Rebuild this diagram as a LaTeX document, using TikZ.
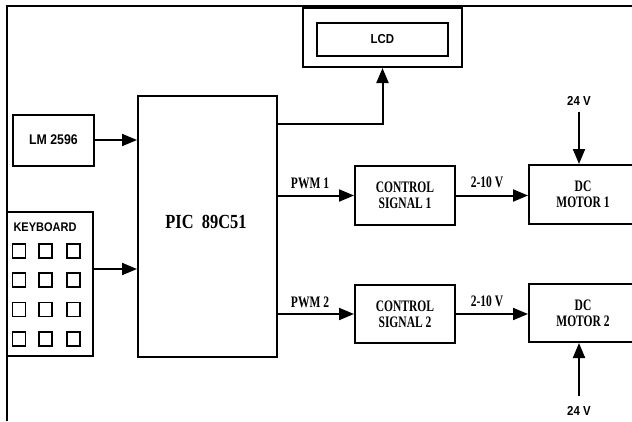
\documentclass[tikz,border=0pt]{standalone}
\usepackage{fontspec}
\usetikzlibrary{arrows.meta}
\setmainfont{Liberation Serif}
\newfontfamily\sansb[FakeStretch=0.88]{Liberation Sans}
\newfontfamily\serb[FakeStretch=0.72]{Liberation Serif}
\newfontfamily\serc[FakeStretch=0.82]{Liberation Serif}
\begin{document}
\begin{tikzpicture}[x=1pt,y=-1pt,
  box/.style={draw, line width=2pt, inner sep=0pt, align=center},
  key/.style={draw, line width=1.8pt, minimum width=13pt, minimum height=14pt, inner sep=0pt},
  arr/.style={line width=2pt, -{Triangle[length=15pt,width=12pt]}},
  sanslab/.style={font=\sansb\bfseries\fontsize{13}{14}\selectfont},
  serlab/.style={font=\serb\bfseries\fontsize{16}{16}\selectfont, align=center}
]
\clip (0,0) rectangle (632,421);
\fill[white] (0,0) rectangle (632,421);
% frame
\draw[line width=1.6pt] (7,421) -- (7,6) -- (640,6);
% LCD
\node[box, minimum width=159pt, minimum height=59pt] (lcdo) at (382.5,37.5) {};
\node[box, minimum width=131pt, minimum height=33pt, sanslab] (lcdi) at (382.5,39.5) {LCD};
% PIC
\node[box, minimum width=139pt, minimum height=261pt] (pic) at (207.5,226.5) {};
\node[font=\serc\bfseries\fontsize{20}{21}\selectfont] (pict) at (206,222) {PIC\ \ 89C51};
% LM 2596
\node[box, minimum width=81pt, minimum height=51pt, font=\sansb\bfseries\fontsize{14}{15}\selectfont] (lm) at (53.5,140) {LM 2596};
% Keyboard
\node[box, minimum width=86pt, minimum height=144pt] (kb) at (50,284) {};
\node[font=\sansb\bfseries\fontsize{12.5}{13}\selectfont] (kbt) at (45,227) {KEYBOARD};
\foreach \i/\yy in {1/251,2/280,3/309.5,4/339} {
  \foreach \j/\xx in {1/19,2/45.5,3/73.5} {
    \node[key] (k-\i-\j) at (\xx,\yy) {};
  }
}
% control signals
\node[box, minimum width=100pt, minimum height=59pt, serlab] (cs1) at (405,195.5) {CONTROL\\SIGNAL 1};
\node[box, minimum width=100pt, minimum height=58pt, serlab] (cs2) at (405,314) {CONTROL\\SIGNAL 2};
% motors
\node[box, minimum width=108pt, minimum height=59pt, serlab] (m1) at (583,194.5) {DC\\MOTOR 1};
\node[box, minimum width=108pt, minimum height=58pt, serlab] (m2) at (583,313) {DC\\MOTOR\ 2};
% 24 V labels
\node[sanslab, inner sep=1pt] (v1) at (579,101) {24 V};
\node[sanslab, inner sep=1pt] (v2) at (579,411) {24 V};
% connectors
\draw[arr] (lm.east) -- (lm.east -| pic.west);
\draw[arr] ([yshift=15pt]kb.east) -- ([yshift=15pt]kb.east -| pic.west);
\draw[arr] ([yshift=-29pt]pic.north east) -| (lcdo.south);
\draw[arr] (cs1.west -| pic.east) -- node[above=2pt, serlab, xshift=-6pt] {PWM 1} (cs1.west);
\draw[arr] (cs2.west -| pic.east) -- node[above=2pt, serlab, xshift=-6pt] {PWM 2} (cs2.west);
\draw[arr] (cs1.east) -- node[above=3pt, serlab, xshift=-5pt] {2-10 V} (cs1.east -| m1.west);
\draw[arr] (cs2.east) -- node[above=3pt, serlab, xshift=-5pt] {2-10 V} (cs2.east -| m2.west);
\draw[arr] ([yshift=-5pt]v1.south) -- (v1.south |- m1.north);
\draw[arr] ([yshift=9pt]v2.north) -- (v2.north |- m2.south);
\end{tikzpicture}
\end{document}
